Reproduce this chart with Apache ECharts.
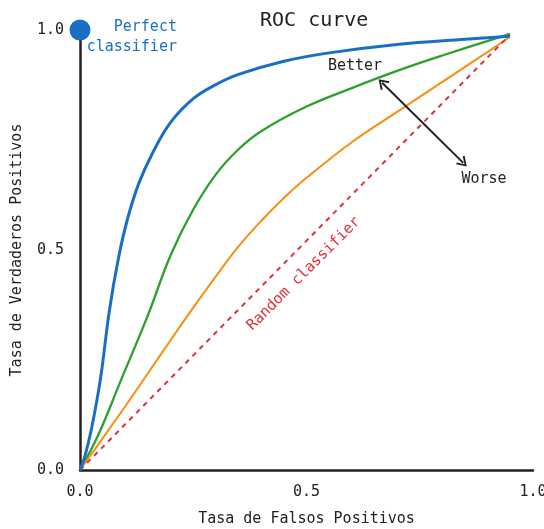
<!DOCTYPE html>
<html>
<head>
<meta charset="utf-8">
<script src="https://cdn.jsdelivr.net/npm/echarts@6/dist/echarts.min.js"></script>
<style>html,body{margin:0;padding:0;background:#fff}#c{width:544px;height:529px}</style>
</head>
<body>
<div id="c"></div>
<script>
// ---- data ----
const xTicks = [0, 0.5, 1.0];
const yTicks = [0, 0.5, 1.0];

const blueFPR = [0, 0.01, 0.025, 0.045, 0.065, 0.085, 0.105, 0.13, 0.16, 0.2, 0.25, 0.3, 0.35, 0.45, 0.55, 0.7, 0.85, 0.949];
const blueTPR = [0, 0.028, 0.092, 0.206, 0.363, 0.482, 0.571, 0.652, 0.720, 0.790, 0.844, 0.876, 0.899, 0.929, 0.948, 0.967, 0.979, 0.986];

const greenFPR = [0, 0.04, 0.09, 0.15, 0.2, 0.25, 0.3, 0.35, 0.4, 0.5, 0.6, 0.7, 0.8, 0.949];
const greenTPR = [0, 0.079, 0.203, 0.352, 0.488, 0.592, 0.672, 0.729, 0.770, 0.826, 0.868, 0.907, 0.942, 0.991];

const orangeFPR = [0, 0.05, 0.1, 0.15, 0.2, 0.25, 0.3, 0.35, 0.4, 0.45, 0.5, 0.6, 0.7, 0.8, 0.949];
const orangeTPR = [0, 0.072, 0.145, 0.220, 0.295, 0.369, 0.440, 0.508, 0.566, 0.618, 0.664, 0.745, 0.814, 0.882, 0.984];

const randomFPR = [0, 0.949];
const randomTPR = [0, 0.989];

const perfectPoint = [0, 1];

const arrowStart = [0.667, 0.880];
const arrowEnd = [0.846, 0.698];

const annotations = [
  { text: 'Perfect\nclassifier', at: [0.214, 0.984] },
  { text: 'Better', at: [0.607, 0.918] },
  { text: 'Worse', at: [0.892, 0.662] },
  { text: 'Random classifier', at: [0.494, 0.446] }
];

// ---- chart ----
const FONT = 'DejaVu Sans Mono';
const zip = (a, b) => a.map((v, i) => [v, b[i]]);
const chevron = 'path://M5,0 L10,9 L8.6,10 L5,3.2 L1.4,10 L0,9 Z';

const chart = echarts.init(document.getElementById('c'), null, { renderer: 'canvas' });
chart.setOption({
  animation: false,
  backgroundColor: '#ffffff',
  textStyle: { fontFamily: FONT },
  title: {
    text: 'ROC curve', left: 255, top: 6,
    textStyle: { fontFamily: FONT, fontSize: 20, fontWeight: 'normal', color: '#222' }
  },
  grid: { left: 80, right: 11, top: 30, bottom: 59, containLabel: false, outerBoundsMode: 'none' },
  xAxis: {
    type: 'value', min: xTicks[0], max: xTicks[xTicks.length - 1], interval: 0.5,
    name: 'Tasa de Falsos Positivos', nameLocation: 'middle', nameGap: 42,
    nameTextStyle: { fontFamily: FONT, fontSize: 15, color: '#222' },
    axisLine: { lineStyle: { color: '#222', width: 2.5 } },
    axisTick: { show: false }, splitLine: { show: false },
    axisLabel: { fontFamily: FONT, fontSize: 15, color: '#222', margin: 15, formatter: v => v.toFixed(1) }
  },
  yAxis: {
    type: 'value', min: yTicks[0], max: yTicks[yTicks.length - 1], interval: 0.5,
    name: 'Tasa de Verdaderos Positivos', nameLocation: 'middle', nameGap: 55,
    nameTextStyle: { fontFamily: FONT, fontSize: 15, color: '#222' },
    axisLine: { show: true, lineStyle: { color: '#222', width: 2.5 } },
    axisTick: { show: false }, splitLine: { show: false },
    axisLabel: { fontFamily: FONT, fontSize: 15, color: '#222', margin: 16, formatter: v => v.toFixed(1) }
  },
  series: [
    {
      name: 'Good', type: 'line', data: zip(greenFPR, greenTPR), smooth: 0.4,
      showSymbol: false, clip: false, z: 2,
      lineStyle: { color: '#2ca02c', width: 2.3 }
    },
    {
      name: 'Fair', type: 'line', data: zip(orangeFPR, orangeTPR), smooth: 0.4,
      showSymbol: false, clip: false, z: 2,
      lineStyle: { color: '#f5900f', width: 2 }
    },
    {
      name: 'Random', type: 'line', data: zip(randomFPR, randomTPR),
      showSymbol: false, clip: false, z: 3,
      lineStyle: { color: '#e0303a', width: 2, type: [5, 5] }
    },
    {
      name: 'Excellent', type: 'line', data: zip(blueFPR, blueTPR), smooth: 0.4,
      showSymbol: false, clip: false, z: 4,
      lineStyle: { color: '#1a6fc4', width: 3 }
    },
    {
      name: 'Perfect', type: 'scatter', data: [perfectPoint], symbolSize: 21, clip: false, z: 6,
      itemStyle: { color: '#1a6fc4', opacity: 1 }
    },
    {
      name: 'arrow', type: 'line', data: [], z: 5,
      markLine: {
        silent: true, animation: false,
        symbol: [chevron, chevron], symbolSize: [12, 10],
        lineStyle: { color: '#222', width: 2, type: 'solid' },
        label: { show: false },
        data: [[{ coord: arrowStart }, { coord: arrowEnd }]]
      }
    },
    {
      name: 'annotations', type: 'scatter', symbolSize: 0, clip: false, z: 7, silent: true,
      itemStyle: { opacity: 1 },
      data: annotations.map((a, i) => ({
        value: a.at,
        label: i === 0 ? {
          show: true, position: 'inside', formatter: a.text, align: 'right', verticalAlign: 'middle',
          fontFamily: FONT, fontSize: 15, lineHeight: 20, color: '#1a6fc4'
        } : i === 3 ? {
          show: true, position: 'inside', formatter: a.text, rotate: 45, align: 'center', verticalAlign: 'middle',
          fontFamily: FONT, fontSize: 15, color: '#e0303a'
        } : {
          show: true, position: 'inside', formatter: a.text, align: 'center', verticalAlign: 'middle',
          fontFamily: FONT, fontSize: 15, color: '#222'
        }
      }))
    }
  ]
});
</script>
</body>
</html>
